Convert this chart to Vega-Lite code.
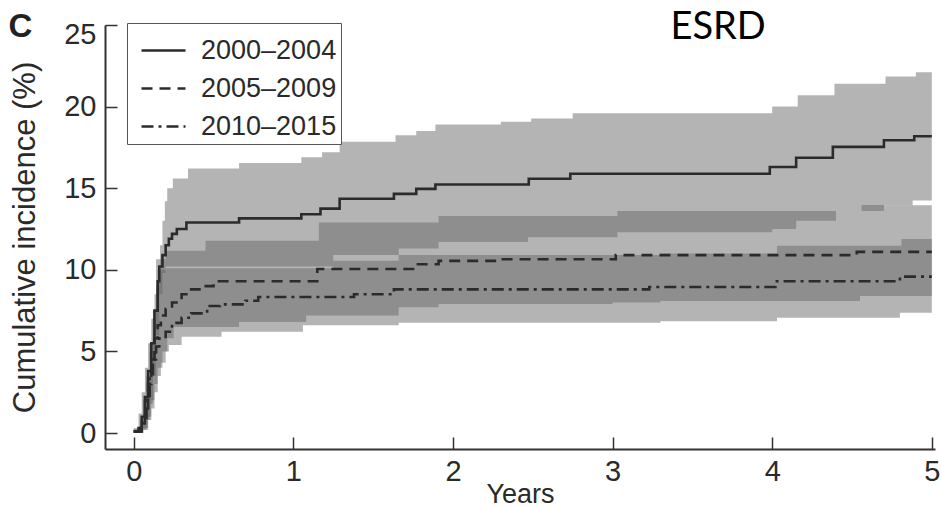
{
  "$schema": "https://vega.github.io/schema/vega-lite/v6.json",
  "width": 830,
  "height": 424,
  "autosize": {"type": "none"},
  "padding": {"left": 105, "top": 25, "right": 6, "bottom": 59},
  "background": "white",
  "config": {
    "view": {"stroke": null},
    "font": "Liberation Sans",
    "axis": {
      "domainColor": "#333333",
      "domainWidth": 2,
      "tickColor": "#333333",
      "tickWidth": 1.5,
      "tickSize": -12,
      "labelFont": "Liberation Sans",
      "labelFontSize": 29,
      "labelColor": "#2a2a2a",
      "titleFont": "Liberation Sans",
      "titleFontWeight": "normal",
      "titleColor": "#2a2a2a",
      "grid": false
    }
  },
  "datasets": {
    "band": [
      {"p": "2000–2004", "t": 0, "lo": 0, "hi": 0.3},
      {"p": "2000–2004", "t": 0.03, "lo": 0, "hi": 1.2},
      {"p": "2000–2004", "t": 0.05, "lo": 0.2, "hi": 2.5},
      {"p": "2000–2004", "t": 0.07, "lo": 0.2, "hi": 4.0},
      {"p": "2000–2004", "t": 0.08, "lo": 0.8, "hi": 4.0},
      {"p": "2000–2004", "t": 0.09, "lo": 0.8, "hi": 5.5},
      {"p": "2000–2004", "t": 0.1, "lo": 1.8, "hi": 5.5},
      {"p": "2000–2004", "t": 0.11, "lo": 1.8, "hi": 7.0},
      {"p": "2000–2004", "t": 0.12, "lo": 3.5, "hi": 7.0},
      {"p": "2000–2004", "t": 0.13, "lo": 3.5, "hi": 8.5},
      {"p": "2000–2004", "t": 0.14, "lo": 6.0, "hi": 8.5},
      {"p": "2000–2004", "t": 0.15, "lo": 6.0, "hi": 10.0},
      {"p": "2000–2004", "t": 0.16, "lo": 8.5, "hi": 10.0},
      {"p": "2000–2004", "t": 0.165, "lo": 8.5, "hi": 11.5},
      {"p": "2000–2004", "t": 0.18, "lo": 9.8, "hi": 13.0},
      {"p": "2000–2004", "t": 0.195, "lo": 9.8, "hi": 14.2},
      {"p": "2000–2004", "t": 0.2, "lo": 10.2, "hi": 14.2},
      {"p": "2000–2004", "t": 0.21, "lo": 10.2, "hi": 15.0},
      {"p": "2000–2004", "t": 0.245, "lo": 10.2, "hi": 15.6},
      {"p": "2000–2004", "t": 0.34, "lo": 10.2, "hi": 16.2},
      {"p": "2000–2004", "t": 0.66, "lo": 10.2, "hi": 16.55},
      {"p": "2000–2004", "t": 1.05, "lo": 10.2, "hi": 16.9},
      {"p": "2000–2004", "t": 1.18, "lo": 10.2, "hi": 17.2},
      {"p": "2000–2004", "t": 1.25, "lo": 10.9, "hi": 17.2},
      {"p": "2000–2004", "t": 1.29, "lo": 10.9, "hi": 17.84},
      {"p": "2000–2004", "t": 1.64, "lo": 10.9, "hi": 18.25},
      {"p": "2000–2004", "t": 1.66, "lo": 11.3, "hi": 18.25},
      {"p": "2000–2004", "t": 1.77, "lo": 11.3, "hi": 18.5},
      {"p": "2000–2004", "t": 1.89, "lo": 11.3, "hi": 18.9},
      {"p": "2000–2004", "t": 1.91, "lo": 11.7, "hi": 18.9},
      {"p": "2000–2004", "t": 2.3, "lo": 11.7, "hi": 19.07},
      {"p": "2000–2004", "t": 2.47, "lo": 12.0, "hi": 19.07},
      {"p": "2000–2004", "t": 2.49, "lo": 12.0, "hi": 19.27},
      {"p": "2000–2004", "t": 2.75, "lo": 12.0, "hi": 19.6},
      {"p": "2000–2004", "t": 3.03, "lo": 12.3, "hi": 19.6},
      {"p": "2000–2004", "t": 4.0, "lo": 12.5, "hi": 20.0},
      {"p": "2000–2004", "t": 4.15, "lo": 13.0, "hi": 20.0},
      {"p": "2000–2004", "t": 4.16, "lo": 13.0, "hi": 20.7},
      {"p": "2000–2004", "t": 4.39, "lo": 13.0, "hi": 21.4},
      {"p": "2000–2004", "t": 4.4, "lo": 13.6, "hi": 21.4},
      {"p": "2000–2004", "t": 4.7, "lo": 13.95, "hi": 21.4},
      {"p": "2000–2004", "t": 4.71, "lo": 13.95, "hi": 21.84},
      {"p": "2000–2004", "t": 4.88, "lo": 14.25, "hi": 21.84},
      {"p": "2000–2004", "t": 4.9, "lo": 14.25, "hi": 22.1},
      {"p": "2000–2004", "t": 5.0, "lo": 14.25, "hi": 22.1},
      {"p": "2005–2009", "t": 0, "lo": 0, "hi": 0.2},
      {"p": "2005–2009", "t": 0.04, "lo": 0, "hi": 0.8},
      {"p": "2005–2009", "t": 0.06, "lo": 0.3, "hi": 2.0},
      {"p": "2005–2009", "t": 0.08, "lo": 0.3, "hi": 3.5},
      {"p": "2005–2009", "t": 0.09, "lo": 1.0, "hi": 3.5},
      {"p": "2005–2009", "t": 0.1, "lo": 1.0, "hi": 5.5},
      {"p": "2005–2009", "t": 0.11, "lo": 2.0, "hi": 5.5},
      {"p": "2005–2009", "t": 0.12, "lo": 2.0, "hi": 7.5},
      {"p": "2005–2009", "t": 0.13, "lo": 3.0, "hi": 7.5},
      {"p": "2005–2009", "t": 0.14, "lo": 3.0, "hi": 10.65},
      {"p": "2005–2009", "t": 0.15, "lo": 4.0, "hi": 10.65},
      {"p": "2005–2009", "t": 0.18, "lo": 5.0, "hi": 10.65},
      {"p": "2005–2009", "t": 0.2, "lo": 5.0, "hi": 11.16},
      {"p": "2005–2009", "t": 0.21, "lo": 5.8, "hi": 11.16},
      {"p": "2005–2009", "t": 0.25, "lo": 6.5, "hi": 11.16},
      {"p": "2005–2009", "t": 0.45, "lo": 6.5, "hi": 11.78},
      {"p": "2005–2009", "t": 0.66, "lo": 6.8, "hi": 11.78},
      {"p": "2005–2009", "t": 1.08, "lo": 7.2, "hi": 11.78},
      {"p": "2005–2009", "t": 1.16, "lo": 7.2, "hi": 12.9},
      {"p": "2005–2009", "t": 1.66, "lo": 7.7, "hi": 12.9},
      {"p": "2005–2009", "t": 1.91, "lo": 7.9, "hi": 13.3},
      {"p": "2005–2009", "t": 3.0, "lo": 8.0, "hi": 13.3},
      {"p": "2005–2009", "t": 3.03, "lo": 8.0, "hi": 13.6},
      {"p": "2005–2009", "t": 3.3, "lo": 8.09, "hi": 13.6},
      {"p": "2005–2009", "t": 4.55, "lo": 8.4, "hi": 13.6},
      {"p": "2005–2009", "t": 4.56, "lo": 8.4, "hi": 13.97},
      {"p": "2005–2009", "t": 4.7, "lo": 8.4, "hi": 13.95},
      {"p": "2005–2009", "t": 5.0, "lo": 8.4, "hi": 13.95},
      {"p": "2010–2015", "t": 0, "lo": 0, "hi": 0.2},
      {"p": "2010–2015", "t": 0.04, "lo": 0, "hi": 0.8},
      {"p": "2010–2015", "t": 0.06, "lo": 0.2, "hi": 2.0},
      {"p": "2010–2015", "t": 0.08, "lo": 0.2, "hi": 3.5},
      {"p": "2010–2015", "t": 0.09, "lo": 0.8, "hi": 3.5},
      {"p": "2010–2015", "t": 0.1, "lo": 0.8, "hi": 5.0},
      {"p": "2010–2015", "t": 0.11, "lo": 1.5, "hi": 5.0},
      {"p": "2010–2015", "t": 0.12, "lo": 1.5, "hi": 7.0},
      {"p": "2010–2015", "t": 0.13, "lo": 2.5, "hi": 7.0},
      {"p": "2010–2015", "t": 0.14, "lo": 2.5, "hi": 9.0},
      {"p": "2010–2015", "t": 0.15, "lo": 3.5, "hi": 9.0},
      {"p": "2010–2015", "t": 0.16, "lo": 3.5, "hi": 10.0},
      {"p": "2010–2015", "t": 0.17, "lo": 4.3, "hi": 10.0},
      {"p": "2010–2015", "t": 0.2, "lo": 5.0, "hi": 10.1},
      {"p": "2010–2015", "t": 0.22, "lo": 5.4, "hi": 10.1},
      {"p": "2010–2015", "t": 0.3, "lo": 5.9, "hi": 10.1},
      {"p": "2010–2015", "t": 0.55, "lo": 6.2, "hi": 10.1},
      {"p": "2010–2015", "t": 1.06, "lo": 6.6, "hi": 10.1},
      {"p": "2010–2015", "t": 1.25, "lo": 6.6, "hi": 10.55},
      {"p": "2010–2015", "t": 1.66, "lo": 6.75, "hi": 10.9},
      {"p": "2010–2015", "t": 3.3, "lo": 6.85, "hi": 11.0},
      {"p": "2010–2015", "t": 4.03, "lo": 7.06, "hi": 11.47},
      {"p": "2010–2015", "t": 4.8, "lo": 7.37, "hi": 11.47},
      {"p": "2010–2015", "t": 4.81, "lo": 7.37, "hi": 11.88},
      {"p": "2010–2015", "t": 5.0, "lo": 7.37, "hi": 11.88}
    ],
    "est": [
      {"p": "2000–2004", "t": 0, "v": 0.1},
      {"p": "2000–2004", "t": 0.03, "v": 0.3},
      {"p": "2000–2004", "t": 0.05, "v": 1.0},
      {"p": "2000–2004", "t": 0.07, "v": 2.2},
      {"p": "2000–2004", "t": 0.09, "v": 3.8},
      {"p": "2000–2004", "t": 0.11, "v": 5.5},
      {"p": "2000–2004", "t": 0.13, "v": 7.5},
      {"p": "2000–2004", "t": 0.15, "v": 9.3},
      {"p": "2000–2004", "t": 0.16, "v": 10.2},
      {"p": "2000–2004", "t": 0.18, "v": 10.9},
      {"p": "2000–2004", "t": 0.2, "v": 11.5},
      {"p": "2000–2004", "t": 0.22, "v": 11.9},
      {"p": "2000–2004", "t": 0.24, "v": 12.2},
      {"p": "2000–2004", "t": 0.27, "v": 12.5},
      {"p": "2000–2004", "t": 0.33, "v": 12.9},
      {"p": "2000–2004", "t": 0.66, "v": 13.15},
      {"p": "2000–2004", "t": 1.05, "v": 13.4},
      {"p": "2000–2004", "t": 1.17, "v": 13.75},
      {"p": "2000–2004", "t": 1.29, "v": 14.35},
      {"p": "2000–2004", "t": 1.63, "v": 14.65},
      {"p": "2000–2004", "t": 1.77, "v": 14.96},
      {"p": "2000–2004", "t": 1.89, "v": 15.23},
      {"p": "2000–2004", "t": 2.475, "v": 15.58},
      {"p": "2000–2004", "t": 2.735, "v": 15.89},
      {"p": "2000–2004", "t": 3.985, "v": 16.3},
      {"p": "2000–2004", "t": 4.15, "v": 16.87},
      {"p": "2000–2004", "t": 4.38, "v": 17.53},
      {"p": "2000–2004", "t": 4.7, "v": 17.94},
      {"p": "2000–2004", "t": 4.89, "v": 18.18},
      {"p": "2000–2004", "t": 5.0, "v": 18.18},
      {"p": "2005–2009", "t": 0, "v": 0.1},
      {"p": "2005–2009", "t": 0.04, "v": 0.4},
      {"p": "2005–2009", "t": 0.07, "v": 1.5},
      {"p": "2005–2009", "t": 0.09, "v": 3.0},
      {"p": "2005–2009", "t": 0.11, "v": 4.5},
      {"p": "2005–2009", "t": 0.13, "v": 5.8},
      {"p": "2005–2009", "t": 0.15, "v": 6.6},
      {"p": "2005–2009", "t": 0.17, "v": 7.2},
      {"p": "2005–2009", "t": 0.2, "v": 7.6},
      {"p": "2005–2009", "t": 0.24, "v": 8.0},
      {"p": "2005–2009", "t": 0.3, "v": 8.5},
      {"p": "2005–2009", "t": 0.36, "v": 8.8},
      {"p": "2005–2009", "t": 0.43, "v": 9.0},
      {"p": "2005–2009", "t": 0.5, "v": 9.3},
      {"p": "2005–2009", "t": 1.15, "v": 10.05},
      {"p": "2005–2009", "t": 1.75, "v": 10.34},
      {"p": "2005–2009", "t": 1.91, "v": 10.55},
      {"p": "2005–2009", "t": 2.29, "v": 10.65},
      {"p": "2005–2009", "t": 3.02, "v": 10.9},
      {"p": "2005–2009", "t": 4.53, "v": 11.1},
      {"p": "2005–2009", "t": 5.0, "v": 11.1},
      {"p": "2010–2015", "t": 0, "v": 0.1},
      {"p": "2010–2015", "t": 0.05, "v": 0.6},
      {"p": "2010–2015", "t": 0.08, "v": 2.0},
      {"p": "2010–2015", "t": 0.1, "v": 3.5},
      {"p": "2010–2015", "t": 0.12, "v": 4.5},
      {"p": "2010–2015", "t": 0.14, "v": 5.3},
      {"p": "2010–2015", "t": 0.16, "v": 5.8},
      {"p": "2010–2015", "t": 0.2, "v": 6.2},
      {"p": "2010–2015", "t": 0.24, "v": 6.75},
      {"p": "2010–2015", "t": 0.3, "v": 7.06},
      {"p": "2010–2015", "t": 0.36, "v": 7.33},
      {"p": "2010–2015", "t": 0.46, "v": 7.78},
      {"p": "2010–2015", "t": 0.54, "v": 7.88},
      {"p": "2010–2015", "t": 0.7, "v": 8.1},
      {"p": "2010–2015", "t": 0.78, "v": 8.33},
      {"p": "2010–2015", "t": 1.38, "v": 8.5},
      {"p": "2010–2015", "t": 1.63, "v": 8.8},
      {"p": "2010–2015", "t": 3.23, "v": 8.95},
      {"p": "2010–2015", "t": 4.02, "v": 9.3},
      {"p": "2010–2015", "t": 4.8, "v": 9.58},
      {"p": "2010–2015", "t": 5.0, "v": 9.58}
    ],
    "labels": [
      {"label": "C"}
    ],
    "heading": [
      {"label": "ESRD"}
    ]
  },
  "layer": [
    {
      "data": {"name": "band"},
      "mark": {"type": "area", "interpolate": "step-after", "fill": "#676767", "opacity": 0.49},
      "encoding": {
        "x": {"field": "t", "type": "quantitative", "scale": {"domain": [-0.18, 5.02], "nice": false, "zero": false},
          "axis": {"values": [0, 1, 2, 3, 4, 5], "format": "d", "labelFlush": false, "title": "Years", "titleFontSize": 27, "titlePadding": -5, "labelPadding": 20}},
        "y": {"field": "lo", "type": "quantitative", "scale": {"domain": [-0.98, 25], "nice": false, "zero": false},
          "axis": {"values": [0, 5, 10, 15, 20, 25], "format": "d", "labelFlush": 1, "labelFlushOffset": 5, "title": "Cumulative incidence (%)", "titleFontSize": 31, "titlePadding": 22, "labelPadding": 21}},
        "y2": {"field": "hi"},
        "detail": {"field": "p"}
      }
    },
    {
      "data": {"name": "est"},
      "mark": {"type": "line", "interpolate": "step-after", "stroke": "#2b2b2b", "strokeWidth": 2.6},
      "encoding": {
        "x": {"field": "t", "type": "quantitative"},
        "y": {"field": "v", "type": "quantitative"},
        "strokeDash": {
          "field": "p", "type": "nominal",
          "scale": {"domain": ["2000–2004", "2005–2009", "2010–2015"], "range": [[1, 0], [11, 7], [12, 5, 3, 5]]},
          "legend": {
            "title": null, "orient": "none", "legendX": 22, "legendY": -2,
            "fillColor": "white", "strokeColor": "#555555", "padding": 4,
            "symbolType": "stroke", "symbolSize": 1936, "symbolStrokeWidth": 2.4, "symbolStrokeColor": "#2b2b2b",
            "symbolOffset": 9, "labelOffset": 14, "labelFontSize": 27, "labelColor": "#2a2a2a",
            "labelFont": "Liberation Sans", "rowPadding": 1
          }
        }
      }
    },
    {
      "data": {"name": "labels"},
      "mark": {"type": "text", "font": "Liberation Sans", "fontWeight": "bold", "fontSize": 33, "align": "center", "baseline": "alphabetic", "color": "#222222"},
      "encoding": {
        "x": {"datum": -0.71, "type": "quantitative"},
        "y": {"datum": 24.28, "type": "quantitative"},
        "text": {"field": "label"}
      }
    },
    {
      "data": {"name": "heading"},
      "mark": {"type": "text", "font": "Lato", "fontSize": 38, "align": "center", "baseline": "alphabetic", "color": "black"},
      "encoding": {
        "x": {"datum": 3.661, "type": "quantitative"},
        "y": {"datum": 24.17, "type": "quantitative"},
        "text": {"field": "label"}
      }
    }
  ]
}
